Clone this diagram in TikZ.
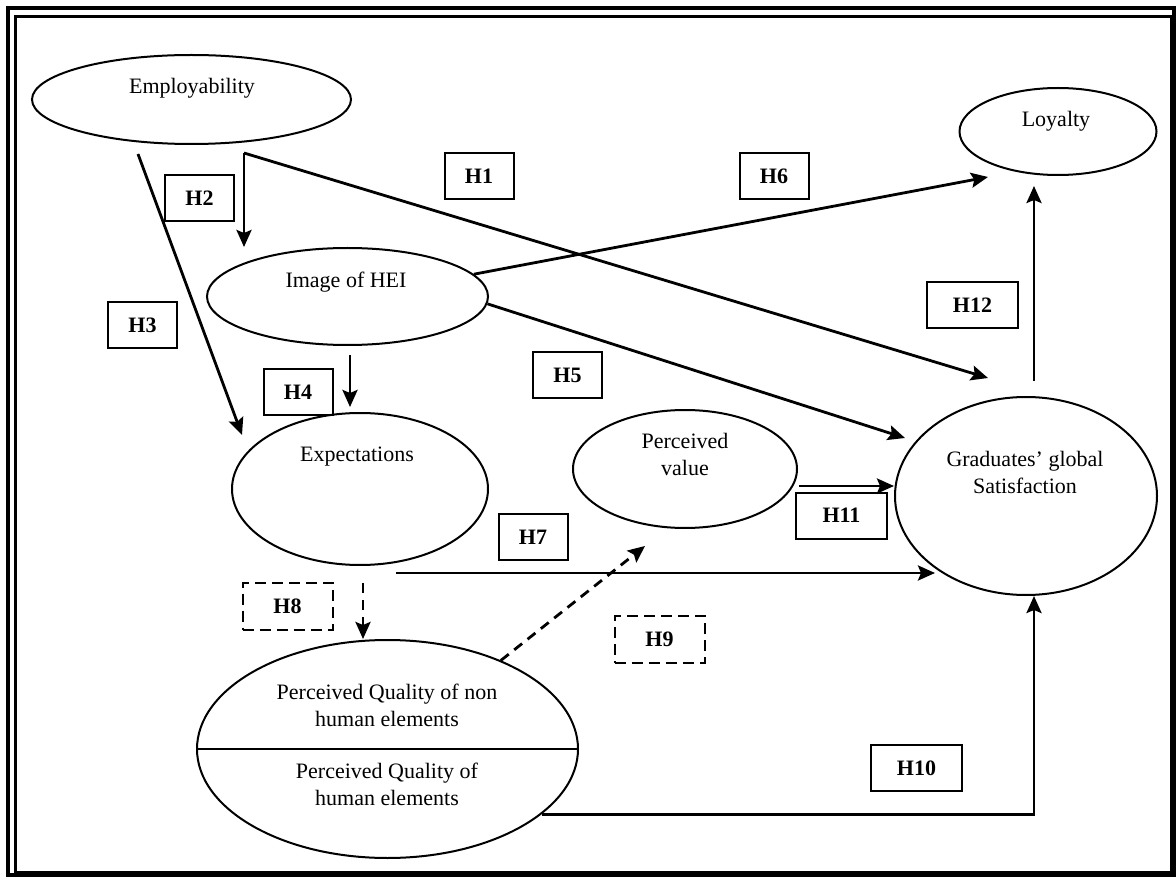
\documentclass[tikz,border=0pt]{standalone}
\usepackage{fontspec}
\setmainfont{Liberation Serif}
\usepackage{tikz}
\usetikzlibrary{shapes.geometric, arrows.meta, calc}
\newcommand{\dgfont}{\fontsize{22}{27}\selectfont}
\tikzstyle{construct} = [ellipse, draw=black, line width=2pt, inner sep=0pt]
\tikzstyle{caption} = [align=center, font=\dgfont]
\tikzstyle{hyp} = [rectangle, draw=black, line width=2pt, minimum width=69pt, minimum height=46pt, font=\dgfont\bfseries]
\tikzstyle{hypwide} = [hyp, minimum width=91pt]
\tikzstyle{hypdash} = [hyp, dash pattern=on 11pt off 6pt, minimum width=90pt, minimum height=47pt]
\tikzstyle{arrow} = [line width=2.8pt, ->, >={Stealth[length=17pt,width=15pt,inset=3pt]}]
\tikzstyle{darrow} = [arrow, dash pattern=on 10pt off 7pt]

\begin{document}
\begin{tikzpicture}[x=1pt, y=-1pt]
\useasboundingbox (0,0) rectangle (1176,877);
\fill[white] (0,0) rectangle (1176,877);
\draw[line width=4pt] (7.5,8.5) rectangle (1174,875);
\draw[line width=3pt] (15,16.5) rectangle (1171,872);

\node (emp) [construct, minimum width=319pt, minimum height=89pt] at (191.5,99.5) {};
\node (empt) [caption] at (192,88) {Employability};
\node (loy) [construct, minimum width=197pt, minimum height=87pt] at (1058,131.5) {};
\node (loyt) [caption] at (1056,121) {Loyalty};
\node (img) [construct, minimum width=281pt, minimum height=97pt] at (347.5,296.5) {};
\node (imgt) [caption] at (346,282) {Image of HEI};
\node (exp) [construct, minimum width=256pt, minimum height=152pt] at (360,489) {};
\node (expt) [caption] at (357,457) {Expectations};
\node (pv) [construct, minimum width=224pt, minimum height=118pt] at (685,469) {};
\node (pvt) [caption] at (685,454) {Perceived\\value};
\node (sat) [construct, minimum width=262pt, minimum height=198pt] at (1026,496) {};
\node (satt) [caption] at (1025,472) {Graduates’ global\\Satisfaction};
\node (pq) [construct, minimum width=381pt, minimum height=218pt] at (387.5,749) {};
\draw[line width=2pt] (pq.west) -- (pq.east);
\node (pqt1) [caption] at (387,705) {Perceived Quality of non\\human elements};
\node (pqt2) [caption] at (387,784) {Perceived Quality of\\human elements};

\node (h1) [hyp] at (479,176) {H1};
\node (h2) [hyp] at (199.5,198) {H2};
\node (h3) [hyp] at (142.5,325) {H3};
\node (h4) [hyp] at (298,392) {H4};
\node (h5) [hyp] at (567.5,375) {H5};
\node (h6) [hyp] at (774,176) {H6};
\node (h7) [hyp] at (533,537) {H7};
\node (h8) [hypdash] at (287.5,606) {H8};
\node (h9) [hypdash] at (659.5,639.5) {H9};
\node (h10) [hypwide] at (916.5,768) {H10};
\node (h11) [hypwide] at (841.5,515.5) {H11};
\node (h12) [hypwide] at (972.5,305) {H12};

\coordinate (fork) at (244,153);
\coordinate (h1e) at (988,378);
\coordinate (h3s) at (138,154);
\coordinate (h3e) at (242,435);
\coordinate (h5e) at (905,438);
\coordinate (h6e) at (988,177);
\coordinate (h7s) at (396,573);
\coordinate (h7e) at (935,573);
\coordinate (h8s) at (363,583);
\coordinate (h9e) at (645,546);

\draw [arrow] (fork) -- (fork |- img.north);
\draw [arrow] (fork) -- (h1e);
\draw [arrow] (h3s) -- (h3e);
\draw [arrow] ($(img.south)+(2.5,9)$) -- ($(exp.north)+(-10,-5)$);
\draw [arrow] (img.-3) -- (h5e);
\draw [arrow] (img.10) -- (h6e);
\draw [arrow] (h7s) -- (h7e);
\draw [darrow] (h8s) -- (h8s |- pq.north);
\draw [darrow] (pq.38) -- (h9e);
\draw [arrow] (pq.-23.5) -| ($(sat.south)+(8,0)$);
\draw [arrow] ($(pv.east)+(1,17)$) -- ($(pv.east -| sat.west)+(0,17)$);
\draw [arrow] ($(sat.north)+(8,-15)$) -- ($(loy.south)+(-24,10)$);
\end{tikzpicture}
\end{document}
